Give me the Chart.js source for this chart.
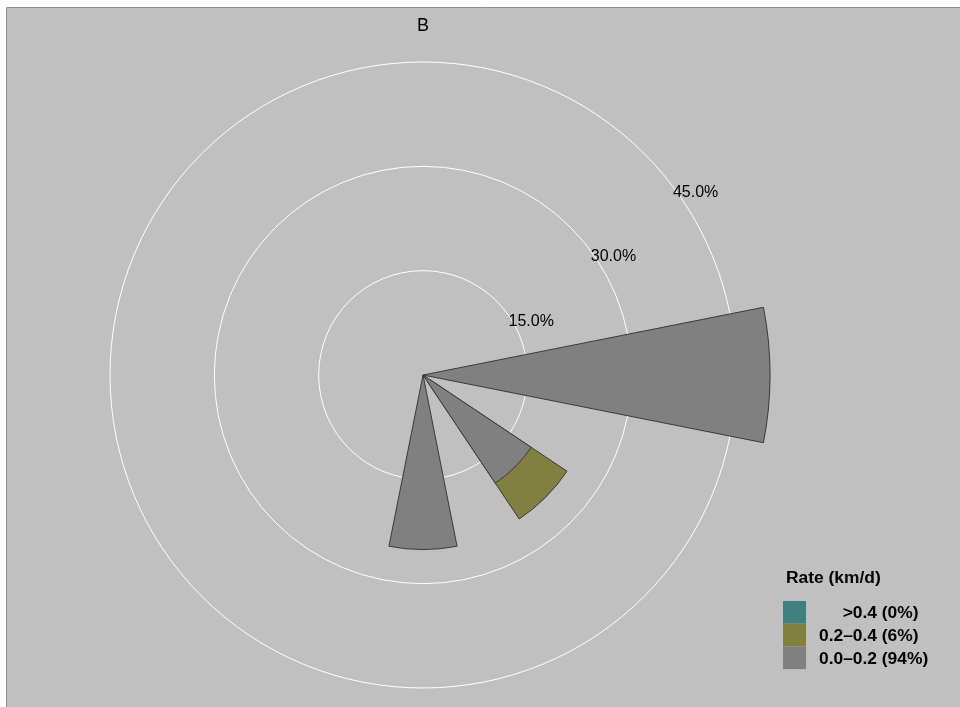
<!DOCTYPE html>
<html>
<head>
<meta charset="utf-8">
<title>B</title>
<script src="https://cdn.jsdelivr.net/npm/chart.js@4.4.1/dist/chart.umd.min.js"></script>
<style>
    html, body { margin: 0; padding: 0; background: #fff; }
    canvas { display: block; }
</style>
</head>
<body>
<canvas id="chart" width="960" height="707"></canvas>
<script>
        // 16 sectors, clockwise from north
        const directions = ['N', 'NNE', 'NE', 'ENE', 'E', 'ESE', 'SE', 'SSE', 'S', 'SSW', 'SW', 'WSW', 'W', 'WNW', 'NW', 'NNW'];

        // frequency (%) per rate class
        const rateLow  = [0, 0, 0, 0, 49.9, 0, 18.7, 0, 25.1, 0, 0, 0, 0, 0, 0, 0];
        const rateMid  = [0, 0, 0, 0, 0,    0, 6.2,  0, 0,    0, 0, 0, 0, 0, 0, 0];
        const rateHigh = [0, 0, 0, 0, 0,    0, 0,    0, 0,    0, 0, 0, 0, 0, 0, 0];

        const bandLabels = ['>0.4', '0.2\u20130.4', '0.0\u20130.2'];
        const bandColors = ['#418080', '#808040', '#808080'];
        const radialTicks = [15, 30, 45];

        // stacked radius: a band only shows where it has a value
        function stackOn(bands) {
            return directions.map((d, i) => {
                const top = bands[bands.length - 1][i];
                if (top <= 0) return 0;
                return bands.reduce((s, b) => s + b[i], 0);
            });
        }

        const sum = arr => arr.reduce((s, v) => s + v, 0);
        const total = sum(rateLow) + sum(rateMid) + sum(rateHigh);
        const bandPct = [rateHigh, rateMid, rateLow].map(b => Math.round(sum(b) / total * 100));

        const decor = {
            id: 'decor',
            beforeDraw(chart) {
                const c = chart.ctx;
                c.save();
                c.fillStyle = '#ffffff';
                c.fillRect(0, 0, chart.width, chart.height);
                c.fillStyle = '#c0c0c0';
                c.fillRect(7, 8, chart.width - 7, chart.height - 8);
                c.strokeStyle = '#8c8c8c';
                c.lineWidth = 1;
                c.beginPath();
                c.moveTo(6.5, chart.height);
                c.lineTo(6.5, 7.5);
                c.lineTo(chart.width, 7.5);
                c.stroke();
                c.restore();
            },
            afterDraw(chart) {
                const c = chart.ctx;
                const r = chart.scales.r;
                c.save();
                c.fillStyle = '#000';
                c.font = '16px "Liberation Sans", Arial, sans-serif';
                c.textAlign = 'center';
                c.textBaseline = 'middle';

                // tick labels along a diagonal ray
                const a = 52 * Math.PI / 180;
                radialTicks.forEach(v => {
                    const d = r.getDistanceFromCenterForValue(v);
                    c.fillText(v.toFixed(1) + '%', r.xCenter + 26 + d * Math.sin(a), r.yCenter + 10.5 - d * Math.cos(a));
                });

                c.font = '18px "Liberation Sans", Arial, sans-serif';
                c.fillText('B', r.xCenter, 26);

                // legend
                c.font = 'bold 17.4px "Liberation Sans", Arial, sans-serif';
                c.textAlign = 'left';
                c.fillText('Rate (km/d)', 786, 578);
                const boxX = 783, boxY = 601, boxW = 23, boxH = 22.7, col = 877;
                bandLabels.forEach((lab, i) => {
                    const y = boxY + i * boxH;
                    c.fillStyle = bandColors[i];
                    c.fillRect(boxX, y, boxW, boxH);
                    c.fillStyle = '#000';
                    c.textAlign = 'right';
                    c.fillText(lab, col, y + boxH / 2 + 1);
                    c.textAlign = 'left';
                    c.fillText(' (' + bandPct[i] + '%)', col, y + boxH / 2 + 1);
                });
                c.restore();
            }
        };

        const arcBorder = ctx => (ctx.raw > 0 ? 1 : 0);

        const ctx = document.getElementById('chart').getContext('2d');
        new Chart(ctx, {
            type: 'polarArea',
            data: {
                labels: directions,
                datasets: [
                    {
                        label: bandLabels[2],
                        data: rateLow,
                        backgroundColor: bandColors[2],
                        borderColor: '#3a3a3a',
                        borderWidth: arcBorder,
                        clip: false
                    },
                    {
                        label: bandLabels[1],
                        data: stackOn([rateLow, rateMid]),
                        backgroundColor: bandColors[1],
                        borderColor: '#3a3a3a',
                        borderWidth: arcBorder,
                        clip: false
                    },
                    {
                        label: bandLabels[0],
                        data: stackOn([rateLow, rateMid, rateHigh]),
                        backgroundColor: bandColors[0],
                        borderColor: '#3a3a3a',
                        borderWidth: arcBorder,
                        clip: false
                    }
                ]
            },
            options: {
                responsive: false,
                animation: false,
                layout: {
                    padding: { left: 110, right: 223, top: 62, bottom: 18 }
                },
                scales: {
                    r: {
                        min: 0,
                        max: 45,
                        startAngle: -11.25,
                        ticks: { display: false, stepSize: 15 },
                        grid: { color: '#ffffff', lineWidth: 1 },
                        angleLines: { display: false },
                        pointLabels: { display: false }
                    }
                },
                plugins: {
                    legend: { display: false },
                    title: { display: false },
                    tooltip: { enabled: false }
                }
            },
            plugins: [decor]
        });
</script>
</body>
</html>
